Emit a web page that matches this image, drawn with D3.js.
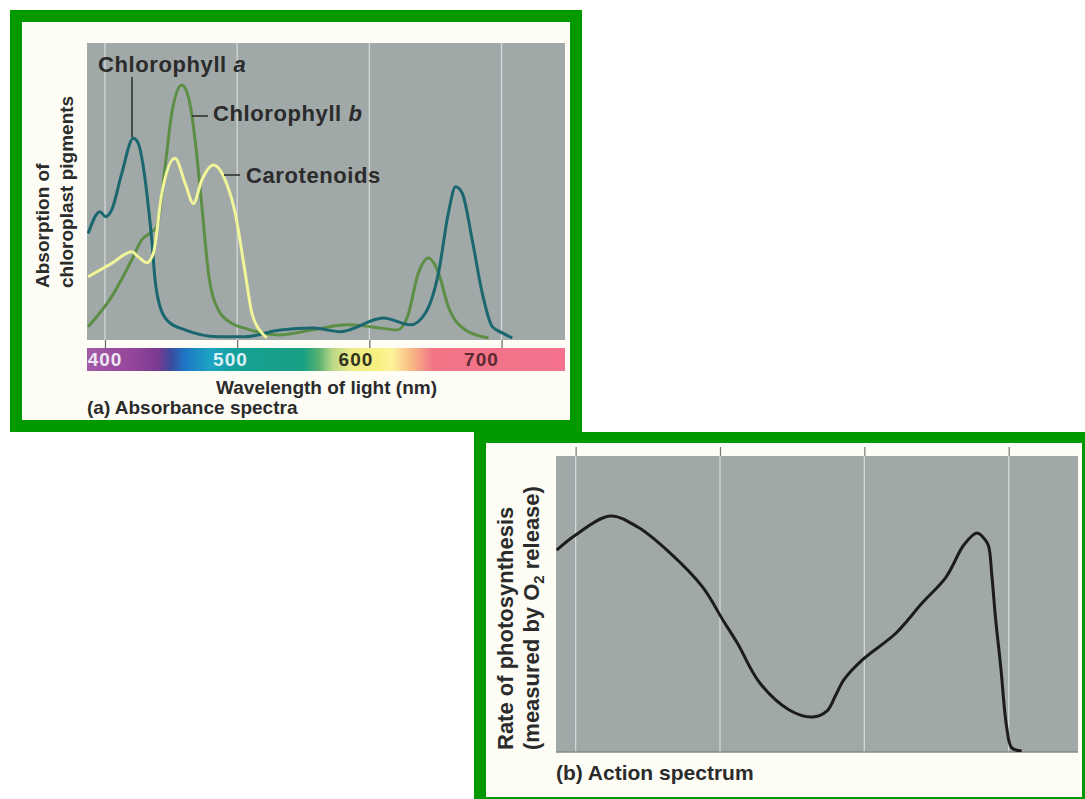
<!DOCTYPE html>
<html><head><meta charset="utf-8">
<script src="https://cdn.jsdelivr.net/npm/d3@7"></script>
<style>
body{margin:0;background:#fff;}
svg{display:block;}
text{font-family:"Liberation Sans",Arial,Helvetica,sans-serif;font-weight:bold;fill:#2b2b2b;}
</style>
</head><body>
<svg id="chart" width="1085" height="799"></svg>
<script>
// ---------- DATA ----------
const wavelengthTicks = [400, 500, 600, 700];
const wavelengthDomain = [386.4, 748];

// absorbance (relative, 0..1) vs wavelength (nm)
const chlorophyllA = [
  [387.3,0.359],[396.2,0.432],[400.5,0.415],[405.1,0.438],[412.7,0.561],[421.4,0.679],
  [425.2,0.662],[429,0.583],[432.8,0.449],[435.4,0.337],[437.9,0.202],[441.7,0.112],
  [448,0.062],[460.6,0.034],[485.8,0.011],[506.1,0.011],[532.6,0.034],[557.6,0.040],
  [578,0.028],[610.6,0.074],[631.1,0.051],[642.4,0.091],[652.3,0.226],[659.8,0.428],
  [665.2,0.516],[670.2,0.495],[677.8,0.337],[685.4,0.158],[693,0.045],[700.5,0.024],[708.1,0.007]
];
const chlorophyllB = [
  [387.3,0.045],[405.1,0.146],[420.2,0.269],[427.8,0.337],[434.1,0.360],[439.2,0.381],
  [445.5,0.584],[450.5,0.763],[458.1,0.859],[463.1,0.819],[468.2,0.673],[473.3,0.449],
  [478.3,0.225],[485.8,0.101],[496,0.056],[506.1,0.039],[531.1,0.017],[556.8,0.034],
  [583.3,0.051],[600.8,0.045],[621.2,0.034],[628.8,0.078],[637.1,0.226],[644.7,0.276],
  [652.3,0.226],[659.8,0.112],[672.7,0.034],[690.2,0.007]
];
const carotenoids = [
  [387.3,0.213],[405.1,0.258],[420.2,0.297],[425.2,0.280],[431.6,0.260],[436.6,0.292],
  [443,0.494],[453,0.612],[460.6,0.528],[466.9,0.460],[473.3,0.539],[482,0.589],
  [490.9,0.539],[498.5,0.427],[506.1,0.225],[511.1,0.091],[518.7,0.024],[522.5,0.007]
];
// action spectrum: rate of photosynthesis (relative, 0..1)
const actionSpectrum = [
  [386.9,0.682],[400,0.733],[424,0.797],[443,0.760],[465.5,0.672],[488,0.557],[502,0.446],
  [512,0.368],[527.6,0.233],[548,0.142],[564,0.118],[574,0.138],[580,0.190],[586,0.245],
  [598.6,0.311],[622,0.402],[640,0.503],[656.6,0.591],[669,0.700],[678,0.740],[684,0.715],
  [686.2,0.693],[688.3,0.598],[691,0.446],[694.5,0.287],[698.6,0.084],[702.1,0.014],[709,0.003]
];
// visible-spectrum colour stops (nm, colour)
const spectrumStops = [
  [386,"#a25aa6"],[420,"#94479a"],[440,"#7a3a90"],[450,"#3a4c9e"],[460,"#1e74c4"],
  [480,"#1ca4c4"],[500,"#16a095"],[550,"#1aa083"],[562,"#5ab272"],[572,"#b8d888"],
  [588,"#f0ec84"],[607,"#f8f080"],[617,"#fdf39a"],[632,"#f9b884"],[648,"#f27486"],[748,"#f4728e"]
];
const spectrumLabelColors = ["#efe6f4", "#dcf0f8", "#33331f", "#5a2a32"];

// ---------- DRAW ----------
const svg = d3.select("#chart");
const GREEN = "#009a00", CREAM = "#fdfdf6", GRAY = "#a0a8a8", GRID = "#d2d8d8";

svg.append("rect").attr("width",1085).attr("height",799).attr("fill","#fff");

// ===== Panel (a) =====
svg.append("rect").attr("x",10).attr("y",10).attr("width",572).attr("height",422).attr("fill",GREEN);
svg.append("rect").attr("x",22).attr("y",22).attr("width",548).attr("height",398).attr("fill",CREAM);

const A = {left:87, right:565, top:43, bottom:340};
const xA = d3.scaleLinear().domain(wavelengthDomain).range([A.left, A.right]);
const yA = d3.scaleLinear().domain([0,1]).range([A.bottom, A.top]);

svg.append("rect").attr("x",A.left).attr("y",A.top).attr("width",A.right-A.left).attr("height",A.bottom-A.top).attr("fill",GRAY);
svg.append("g").selectAll("line").data(wavelengthTicks).join("line")
  .attr("x1",d=>xA(d)).attr("x2",d=>xA(d)).attr("y1",A.top).attr("y2",A.bottom)
  .attr("stroke",GRID).attr("stroke-width",1.3);

// ticks below the plot
const axA = svg.append("g").attr("transform",`translate(0,${A.bottom})`)
  .call(d3.axisBottom(xA).tickValues(wavelengthTicks).tickSize(8).tickFormat(""));
axA.select(".domain").remove();
axA.selectAll(".tick line").attr("stroke","#666").attr("stroke-width",1.2);

// spectrum bar
const defs = svg.append("defs");
const grad = defs.append("linearGradient").attr("id","spec").attr("gradientUnits","userSpaceOnUse")
  .attr("x1",A.left).attr("x2",A.right).attr("y1",0).attr("y2",0);
grad.selectAll("stop").data(spectrumStops).join("stop")
  .attr("offset",d=>Math.max(0,Math.min(1,(xA(d[0])-A.left)/(A.right-A.left))))
  .attr("stop-color",d=>d[1]);
svg.append("rect").attr("x",A.left).attr("y",348).attr("width",A.right-A.left).attr("height",23).attr("fill","url(#spec)");
svg.append("g").selectAll("text").data(wavelengthTicks).join("text")
  .attr("x",(d,i)=>xA(d)-6.7*i).attr("y",366).attr("text-anchor","middle")
  .style("font-size","19px").style("letter-spacing","1px")
  .style("fill",(d,i)=>spectrumLabelColors[i]).text(d=>d);

// curves
defs.append("clipPath").attr("id","clipA").append("rect")
  .attr("x",A.left).attr("y",A.top).attr("width",A.right-A.left).attr("height",A.bottom-A.top);
const lineA = d3.line().x(d=>xA(d[0])).y(d=>yA(d[1])).curve(d3.curveMonotoneX);
const gA = svg.append("g").attr("clip-path","url(#clipA)");
gA.append("path").datum(chlorophyllB).attr("d",lineA).attr("fill","none").attr("stroke","#5d8e45").attr("stroke-width",3);
gA.append("path").datum(chlorophyllA).attr("d",lineA).attr("fill","none").attr("stroke","#1b6770").attr("stroke-width",3);
gA.append("path").datum(carotenoids).attr("d",lineA).attr("fill","none").attr("stroke","#f1f59a").attr("stroke-width",3);

// curve labels + leaders
const lab = (x,y,main,ital)=>{
  const t = svg.append("text").attr("x",x).attr("y",y).style("font-size","22px").style("letter-spacing","0.6px");
  t.append("tspan").text(main);
  if (ital) t.append("tspan").style("font-style","italic").text(ital);
};
lab(98,72,"Chlorophyll ","a");
lab(213,121,"Chlorophyll ","b");
lab(246,183,"Carotenoids",null);
const lead = (x1,y1,x2,y2)=>svg.append("line").attr("x1",x1).attr("y1",y1).attr("x2",x2).attr("y2",y2).attr("stroke","#333").attr("stroke-width",1.6);
lead(132,77,132,137);
lead(192,116,208,116);
lead(224,175,240,175);

// axis titles
svg.append("text").attr("transform","translate(49,288) rotate(-90)").style("font-size","19px").text("Absorption of");
svg.append("text").attr("transform","translate(73,288) rotate(-90)").style("font-size","19px").text("chloroplast pigments");
svg.append("text").attr("x",(A.left+A.right)/2+0.5).attr("y",394).attr("text-anchor","middle").style("font-size","19px").text("Wavelength of light (nm)");
svg.append("text").attr("x",87).attr("y",414).style("font-size","19px").text("(a) Absorbance spectra");

// ===== Panel (b) =====
svg.append("rect").attr("x",474).attr("y",432).attr("width",623).attr("height",379).attr("fill",GREEN);
svg.append("rect").attr("x",486).attr("y",443).attr("width",596).attr("height",354).attr("fill",CREAM);

const B = {left:556, right:1078, top:456, bottom:752};
const xB = d3.scaleLinear().domain(wavelengthDomain).range([B.left, B.right]);
const yB = d3.scaleLinear().domain([0,1]).range([B.bottom, B.top]);

svg.append("rect").attr("x",B.left).attr("y",B.top).attr("width",B.right-B.left).attr("height",B.bottom-B.top).attr("fill",GRAY);
svg.append("g").selectAll("line").data(wavelengthTicks).join("line")
  .attr("x1",d=>xB(d)).attr("x2",d=>xB(d)).attr("y1",B.top).attr("y2",B.bottom)
  .attr("stroke",GRID).attr("stroke-width",1.3);
svg.append("line").attr("x1",B.left).attr("x2",B.right).attr("y1",B.bottom).attr("y2",B.bottom).attr("stroke","#8a8a84").attr("stroke-width",1.5);
const axB = svg.append("g").attr("transform",`translate(0,${B.top})`)
  .call(d3.axisTop(xB).tickValues(wavelengthTicks).tickSize(9).tickFormat(""));
axB.select(".domain").remove();
axB.selectAll(".tick line").attr("stroke","#777").attr("stroke-width",1.2);

defs.append("clipPath").attr("id","clipB").append("rect")
  .attr("x",B.left).attr("y",B.top-5).attr("width",B.right-B.left).attr("height",B.bottom-B.top+5);
const lineB = d3.line().x(d=>xB(d[0])).y(d=>yB(d[1])).curve(d3.curveCatmullRom.alpha(0.5));
svg.append("g").attr("clip-path","url(#clipB)").append("path").datum(actionSpectrum)
  .attr("d",lineB).attr("fill","none").attr("stroke","#1c1c1c").attr("stroke-width",3).attr("stroke-linejoin","round");

svg.append("text").attr("transform","translate(513,750) rotate(-90)").style("font-size","22px").text("Rate of photosynthesis");
const t2 = svg.append("text").attr("transform","translate(539,750) rotate(-90)").style("font-size","22px");
t2.append("tspan").text("(measured by O");
t2.append("tspan").attr("dy",5).style("font-size","15px").text("2");
t2.append("tspan").attr("dy",-5).text(" release)");
svg.append("text").attr("x",556).attr("y",780).style("font-size","21px").text("(b) Action spectrum");
</script>
</body></html>
